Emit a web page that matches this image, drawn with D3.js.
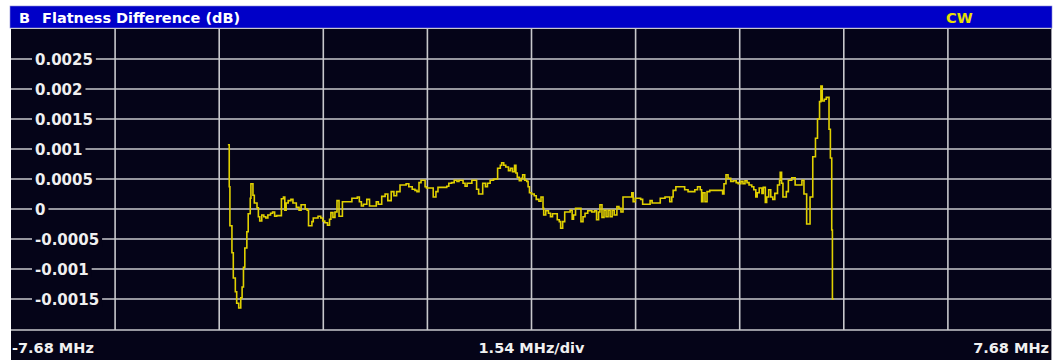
<!DOCTYPE html>
<html lang="en">
<head>
    <meta charset="UTF-8"/>
    <title>Flatness Difference</title>
    <script src="https://d3js.org/d3.v7.min.js"></script>
    <style>
        body { margin: 0; background: #fff; }
        text { font-family: "DejaVu Sans", sans-serif; font-weight: bold; }
    </style>
</head>
<body>
    <script>
        // frequency axis limits and y grid ticks
        var freqRange = [-7.68, 7.68];
        var yTicks = [0.0025, 0.002, 0.0015, 0.001, 0.0005, 0, -0.0005, -0.001, -0.0015];
        var yTickLabels = ["0.0025", "0.002", "0.0015", "0.001", "0.0005", "0", "-0.0005", "-0.001", "-0.0015"];

        // trace: frequency (MHz) and flatness difference (dB), stepped
        var freqMHz = [-4.48, -4.46, -4.45, -4.42, -4.40, -4.37, -4.35, -4.32, -4.29, -4.27,
            -4.25, -4.23, -4.20, -4.18, -4.15, -4.14, -4.11, -4.09, -4.05, -4.03,
            -4.01, -3.98, -3.95, -3.92, -3.89, -3.85, -3.82, -3.79, -3.76, -3.69,
            -3.66, -3.64, -3.62, -3.59, -3.55, -3.52, -3.47, -3.43, -3.40, -3.34,
            -3.31, -3.29, -3.24, -3.22, -3.15, -3.11, -3.08, -3.05, -3.01, -2.98,
            -2.96, -2.93, -2.90, -2.87, -2.84, -2.79, -2.65, -2.57, -2.54, -2.51,
            -2.48, -2.43, -2.39, -2.29, -2.26, -2.21, -2.16, -2.12, -2.07, -2.03,
            -1.99, -1.94, -1.85, -1.81, -1.76, -1.72, -1.69, -1.66, -1.63, -1.57,
            -1.55, -1.45, -1.41, -1.38, -1.25, -1.22, -1.18, -1.14, -1.10, -1.07,
            -1.01, -0.98, -0.95, -0.88, -0.81, -0.78, -0.72, -0.68, -0.65, -0.61,
            -0.56, -0.50, -0.46, -0.44, -0.41, -0.38, -0.34, -0.31, -0.28, -0.25,
            -0.23, -0.21, -0.18, -0.15, -0.13, -0.10, -0.07, -0.05, -0.03, 0.00,
            0.04, 0.07, 0.11, 0.14, 0.17, 0.18, 0.21, 0.25, 0.28, 0.31,
            0.38, 0.41, 0.43, 0.46, 0.49, 0.57, 0.60, 0.62, 0.65, 0.73,
            0.76, 0.79, 0.83, 0.89, 0.93, 0.96, 0.99, 1.01, 1.04, 1.07,
            1.10, 1.13, 1.16, 1.19, 1.22, 1.26, 1.29, 1.32, 1.35, 1.48,
            1.50, 1.53, 1.61, 1.64, 1.75, 1.78, 1.90, 1.97, 2.04, 2.07,
            2.09, 2.13, 2.26, 2.31, 2.41, 2.45, 2.49, 2.51, 2.53, 2.56,
            2.59, 2.63, 2.82, 2.84, 2.87, 2.90, 2.94, 2.98, 3.02, 3.05,
            3.09, 3.12, 3.15, 3.18, 3.21, 3.25, 3.28, 3.31, 3.33, 3.36,
            3.40, 3.42, 3.45, 3.47, 3.50, 3.53, 3.56, 3.59, 3.63, 3.66,
            3.67, 3.69, 3.71, 3.76, 3.79, 3.84, 3.89, 3.99, 4.02, 4.06,
            4.11, 4.15, 4.19, 4.22, 4.25, 4.27, 4.29, 4.32, 4.35, 4.39,
            4.41, 4.43, 4.44, 4.46];
        var flatDiff = [0.00107, 0.00037, -0.00028, -0.00073, -0.00115, -0.00138, -0.00157, -0.00165, -0.00148, -0.0013,
            -0.00097, -0.00065, -0.00038, -0.00008, 0.00018, 0.00042, 0.00023, 0.0001, 0.00002, -0.00013,
            -0.0002, -0.0001, -0.00013, -0.00015, -0.0001, -0.00007, -0.00005, -0.00012, -0.00011, 0.00017,
            0.0002, -0.00002, 0.0001, 0.00014, 0.00016, 0.0001, 0.00003, -0.00002, 0.00007, 0.0,
            -0.00002, -0.00028, -0.00021, -0.00015, -0.00012, -0.00015, -0.0002, -0.00023, -0.00027, -0.00017,
            -0.00006, -0.00014, -0.00005, 0.00014, -0.00012, 0.00012, 0.00018, 0.0002, 0.00012, 0.00005,
            0.00008, 0.00016, 0.00005, 0.00012, 0.00008, 0.00021, 0.00025, 0.00014, 0.00029, 0.00022,
            0.00029, 0.0004, 0.00042, 0.00037, 0.00033, 0.00031, 0.00029, 0.00044, 0.00048, 0.00037,
            0.00035, 0.0002, 0.00029, 0.00036, 0.00038, 0.00043, 0.00044, 0.00048, 0.00046, 0.00048,
            0.00043, 0.00038, 0.00043, 0.00048, 0.00033, 0.00025, 0.00043, 0.00037, 0.00043, 0.00048,
            0.0005, 0.00068, 0.00073, 0.00077, 0.00073, 0.0007, 0.00064, 0.00068, 0.00062, 0.00073,
            0.0006, 0.00053, 0.00047, 0.00051, 0.00057, 0.00048, 0.00046, 0.00037, 0.00027, 0.00025,
            0.00022, 0.00016, 0.00013, 0.0002, 0.00001, -0.0001, -0.00003, -0.00007, -0.00013, -0.00008,
            -0.00018, -0.00021, -0.00032, -0.00021, -0.00005, -0.00002, -0.00017, -0.0001, 0.00001, -0.00021,
            -0.00013, -0.00007, -0.00003, -0.00005, -0.00003, -0.00018, -0.00005, 0.00007, -0.00014, -0.00002,
            -0.00013, -0.00002, -0.00013, -0.00002, -0.0001, 0.00004, 0.00001, -0.00005, 0.0002, 0.00027,
            0.00012, 0.00018, 0.00016, 0.00008, 0.00014, 0.0001, 0.00018, 0.0002, 0.00012, 0.0002,
            0.00031, 0.00037, 0.00032, 0.00029, 0.00032, 0.00037, 0.00032, 0.00012, 0.00027, 0.00012,
            0.00029, 0.00031, 0.00025, 0.00042, 0.00057, 0.00051, 0.00046, 0.00047, 0.00044, 0.00042,
            0.00046, 0.00042, 0.00047, 0.00044, 0.0004, 0.00037, 0.00032, 0.0002, 0.00027, 0.00035,
            0.00026, 0.00036, 0.00011, 0.0002, 0.00032, 0.0002, 0.00016, 0.00026, 0.0004, 0.00048,
            0.00061, 0.00043, 0.0002, 0.00029, 0.00048, 0.00052, 0.0004, 0.00048, 0.00025, -0.00025,
            0.0002, 0.00087, 0.00118, 0.0015, 0.00179, 0.00205, 0.0018, 0.00183, 0.00186, 0.00133,
            0.00085, -0.00035, -0.0015, -0.0015];

        var w = 1056;
        var h = 360;
        var plotLeft = 11, plotRight = 1052, plotTop = 29, plotBottom = 329;

        var svg = d3.select("body")
                    .append("svg")
                    .attr("width", w)
                    .attr("height", h);

        var xScale = d3.scaleLinear()
            .domain(freqRange)
            .range([plotLeft, plotRight]);

        var yScale = d3.scaleLinear()
            .domain([-0.002, 0.003])
            .range([plotBottom, plotTop]);

        // title bar
        svg.append("rect")
            .attr("x", 10).attr("y", 6)
            .attr("width", plotRight - 10).attr("height", 22)
            .attr("fill", "#0000c8")
            .attr("stroke", "#8c8cd8")
            .attr("stroke-width", 0.6);

        svg.append("text").attr("x", 19).attr("y", 23.3)
            .attr("font-size", "14.5px").attr("fill", "#fff").text("B");
        svg.append("text").attr("x", 42).attr("y", 23.3)
            .attr("font-size", "14.5px").attr("fill", "#fff").text("Flatness Difference (dB)");
        svg.append("text").attr("x", 946).attr("y", 23.3)
            .attr("font-size", "14.5px").attr("fill", "#e8e000").text("CW");

        // plot background (includes bottom label strip)
        svg.append("rect")
            .attr("x", plotLeft).attr("y", 28)
            .attr("width", plotRight - plotLeft).attr("height", h - 28)
            .attr("fill", "#050418");

        var gridColor = "#c8c8cc";

        // vertical grid lines
        var xGrid = d3.range(1, 10).map(k => freqRange[0] + k * 1.536);
        svg.append("g").selectAll("line")
            .data(xGrid)
            .join("line")
            .attr("x1", d => xScale(d)).attr("x2", d => xScale(d))
            .attr("y1", 28).attr("y2", plotBottom + 1)
            .attr("stroke", gridColor).attr("stroke-width", 1.6);

        // horizontal grid lines
        svg.append("g").selectAll("line")
            .data(yTicks)
            .join("line")
            .attr("x1", plotLeft).attr("x2", plotRight)
            .attr("y1", d => yScale(d)).attr("y2", d => yScale(d))
            .attr("stroke", gridColor).attr("stroke-width", 1.6);

        // frame lines: top, bottom of grid, right edge
        svg.append("line").attr("x1", plotLeft).attr("x2", plotRight).attr("y1", 28.5).attr("y2", 28.5)
            .attr("stroke", gridColor).attr("stroke-width", 1);
        svg.append("line").attr("x1", plotLeft).attr("x2", plotRight).attr("y1", plotBottom + 1).attr("y2", plotBottom + 1)
            .attr("stroke", gridColor).attr("stroke-width", 1.6);
        svg.append("line").attr("x1", plotRight - 0.5).attr("x2", plotRight - 0.5).attr("y1", 28).attr("y2", h)
            .attr("stroke", "#9a9aa4").attr("stroke-width", 1);

        // y tick labels, drawn over the grid lines with a dark backing
        var yLab = svg.append("g").selectAll("g")
            .data(yTicks)
            .join("g")
            .attr("transform", d => "translate(35," + yScale(d) + ")");

        yLab.append("rect")
            .attr("y", -8).attr("height", 16)
            .attr("fill", "#050418");

        yLab.append("text")
            .attr("y", 5.5)
            .attr("font-size", "15px")
            .attr("fill", "#f0f0f0")
            .text((d, i) => yTickLabels[i]);

        yLab.each(function () {
            var g = d3.select(this);
            var bb = g.select("text").node().getBBox();
            g.select("rect").attr("x", -3).attr("width", bb.width + 6);
        });

        // trace
        var points = freqMHz.map((f, i) => [f, flatDiff[i]]);
        var line = d3.line()
            .x(d => xScale(d[0]))
            .y(d => yScale(d[1]))
            .curve(d3.curveStepAfter);

        svg.append("path")
            .datum(points)
            .attr("d", line)
            .attr("fill", "none")
            .attr("stroke", "#e0d000")
            .attr("stroke-width", 1.6);

        // bottom labels
        svg.append("text").attr("x", 12).attr("y", 353.3)
            .attr("font-size", "14.5px").attr("fill", "#f0f0f0").text("-7.68 MHz");
        svg.append("text").attr("x", xScale(0)).attr("y", 353.3)
            .attr("text-anchor", "middle")
            .attr("font-size", "14.5px").attr("fill", "#f0f0f0").text("1.54 MHz/div");
        svg.append("text").attr("x", 1049).attr("y", 353.3)
            .attr("text-anchor", "end")
            .attr("font-size", "14.5px").attr("fill", "#f0f0f0").text("7.68 MHz");
    </script>
</body>
</html>
